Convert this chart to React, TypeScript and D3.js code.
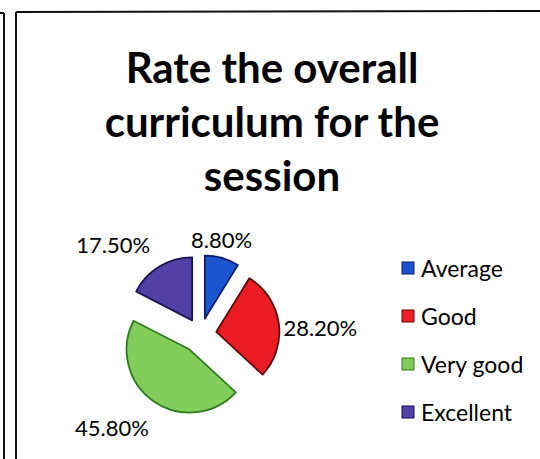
import React from "react";
import * as d3 from "d3";

const categories = ["Average", "Good", "Very good", "Excellent"];
const values = [8.8, 28.2, 45.8, 17.5];
const valueLabels = ["8.80%", "28.20%", "45.80%", "17.50%"];
const titleLines = ["Rate the overall", "curriculum for the", "session"];

const fills = ["#1b55cf", "#ec1c24", "#82cc5c", "#5240a6"];
const strokes = ["#0e1f6a", "#5a0a0a", "#2f7d1e", "#1a1250"];

const W = 540;
const H = 459;
const cx = 200.5;
const cy = 334;
const R = 63;
const explode = [16, 16, 19, 16];
// label placement: [radius, angle offset in degrees from slice mid-angle]
const labelPlace = [
  [97, -3.2],
  [120, 4.7],
  [129, 8.3],
  [125, -12.9],
];

export default function App() {
  const pie = d3
    .pie<number>()
    .sort(null)
    .startAngle(0)
    .endAngle(2 * Math.PI)
    .value((d) => d);
  const arcs = pie(values);
  const arcGen = d3.arc<d3.PieArcDatum<number>>().innerRadius(0).outerRadius(R);

  const font = "Lato, 'Liberation Sans', sans-serif";

  return (
    <svg
      width={W}
      height={H}
      style={{ position: "absolute", left: 0, top: 0, background: "#fff" }}
    >
      <rect x={0} y={0} width={W} height={H} fill="#ffffff" />
      {/* frame lines */}
      <line x1={0} y1={13} x2={4} y2={13} stroke="#111" strokeWidth={2} />
      <line x1={4} y1={13} x2={4} y2={H} stroke="#111" strokeWidth={2} />
      <line x1={16} y1={12} x2={W} y2={11} stroke="#111" strokeWidth={2} />
      <line x1={16} y1={12} x2={16} y2={H} stroke="#111" strokeWidth={2} />

      {/* title */}
      {titleLines.map((t, i) => (
        <text
          key={i}
          x={272}
          y={83 + i * 54}
          textAnchor="middle"
          fontFamily={font}
          fontWeight={700}
          fontSize={42}
          fill="#000"
        >
          {t}
        </text>
      ))}

      {/* pie slices */}
      {arcs.map((a, i) => {
        const mid = (a.startAngle + a.endAngle) / 2;
        const dx = Math.sin(mid) * explode[i];
        const dy = -Math.cos(mid) * explode[i];
        return (
          <path
            key={i}
            d={arcGen(a) || ""}
            transform={`translate(${cx + dx},${cy + dy})`}
            fill={fills[i]}
            stroke={strokes[i]}
            strokeWidth={1.8}
            strokeLinejoin="round"
          />
        );
      })}

      {/* data labels */}
      {arcs.map((a, i) => {
        const mid = (a.startAngle + a.endAngle) / 2 + (labelPlace[i][1] * Math.PI) / 180;
        const r = labelPlace[i][0];
        const x = cx + Math.sin(mid) * r;
        const y = cy - Math.cos(mid) * r;
        return (
          <text
            key={i}
            x={x}
            y={y}
            textAnchor="middle"
            dominantBaseline="central"
            fontFamily={font}
            fontSize={22}
            fill="#000"
          >
            {valueLabels[i]}
          </text>
        );
      })}

      {/* legend */}
      {categories.map((c, i) => (
        <g key={i} transform={`translate(402,${268 + i * 48})`}>
          <rect x={0} y={-6} width={12} height={12} fill={fills[i]} stroke={strokes[i]} strokeWidth={1} />
          <text
            x={19}
            y={0}
            dominantBaseline="central"
            fontFamily={font}
            fontSize={23}
            fill="#000"
          >
            {c}
          </text>
        </g>
      ))}
    </svg>
  );
}
